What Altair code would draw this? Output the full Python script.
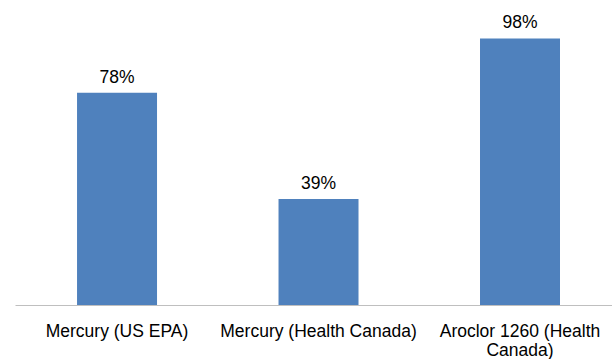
import altair as alt
import pandas as pd

categories = ["Mercury (US EPA)", "Mercury (Health Canada)", "Aroclor 1260 (Health Canada)"]
values = [78, 39, 98]

df = pd.DataFrame({"category": categories, "value": values})

FONT = "Liberation Sans"

x_enc = alt.X(
    "category:N",
    sort=categories,
    scale=alt.Scale(paddingInner=0.603, paddingOuter=0.283, align=0.544),
    axis=alt.Axis(
        title=None,
        labelAngle=0,
        ticks=False,
        domain=True,
        domainColor="#bfbfbf",
        domainWidth=1,
        labelFont=FONT,
        labelFontSize=17.5,
        labelColor="#000000",
        labelPadding=17,
        labelLineHeight=19.5,
        labelLimit=0,
        grid=False,
        labelExpr="datum.label == 'Aroclor 1260 (Health Canada)' ? ['Aroclor 1260 (Health', 'Canada)'] : datum.label",
    ),
)
y_enc = alt.Y("value:Q", scale=alt.Scale(domain=[0, 100], nice=False), axis=None)

bars = alt.Chart(df).mark_bar(color="#4F81BD").encode(x=x_enc, y=y_enc)

labels = (
    alt.Chart(df)
    .transform_calculate(label="datum.value + '%'")
    .mark_text(font=FONT, fontSize=17.5, color="#000000", baseline="alphabetic", dy=-10)
    .encode(x=alt.X("category:N", sort=categories), y=alt.Y("value:Q"), text="label:N")
)

chart = (
    alt.layer(bars, labels)
    .properties(
        width=597,
        height=272,
        autosize=alt.AutoSizeParams(type="none"),
        padding={"left": 15, "top": 33, "right": 0, "bottom": 54},
        background="white",
    )
    .configure_view(stroke=None)
)

chart.save("out.html", embed_options={"renderer": "svg", "actions": False})
